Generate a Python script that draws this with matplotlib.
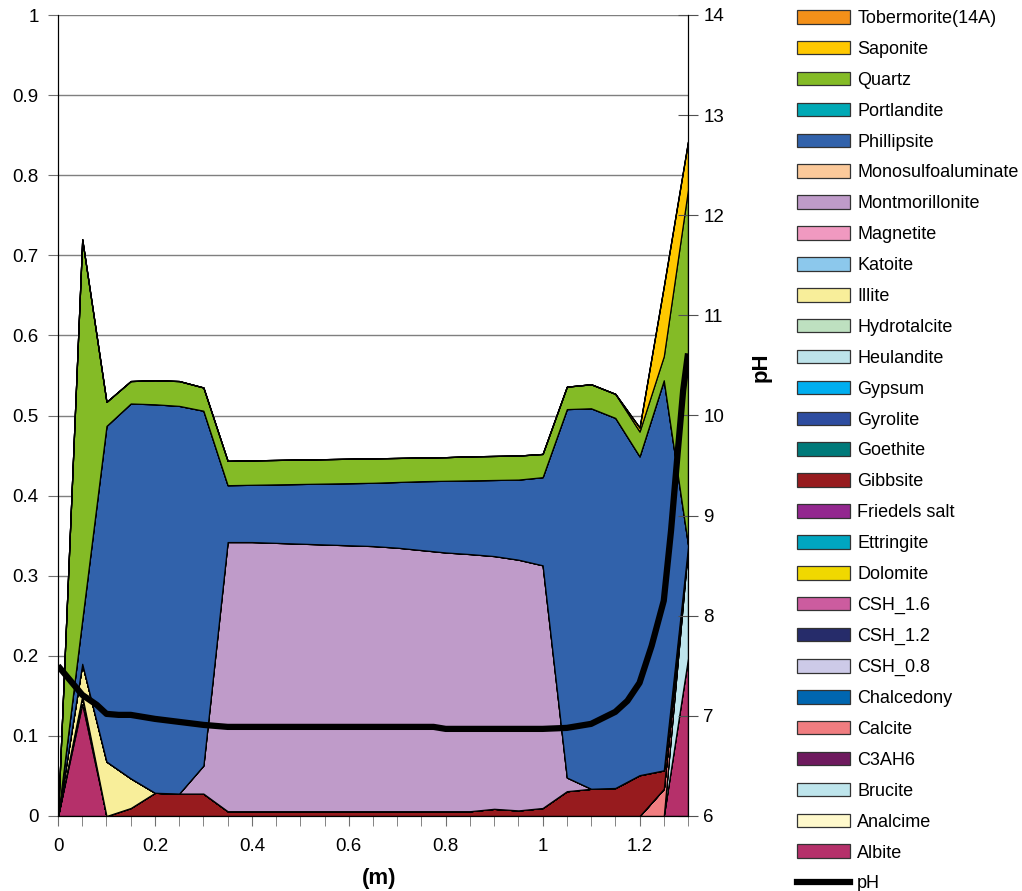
import matplotlib
matplotlib.use("Agg")
import matplotlib.pyplot as plt
from matplotlib.patches import Patch
from matplotlib.lines import Line2D

plt.rcParams['font.family'] = ['Liberation Sans', 'DejaVu Sans']

# distance (m), one value every 0.05 m
dist = [0.0, 0.05, 0.1, 0.15, 0.2, 0.25, 0.3, 0.35, 0.4, 0.45, 0.5, 0.55, 0.6, 0.65,
        0.7, 0.75, 0.8, 0.85, 0.9, 0.95, 1.0, 1.05, 1.1, 1.15, 1.2, 1.25, 1.3]

zeros = [0.0] * 27  # minerals that never show up

albite = [0, 0.14, 0, 0, 0, 0, 0, 0, 0, 0, 0, 0, 0, 0,
          0, 0, 0, 0, 0, 0, 0, 0, 0, 0, 0, 0, 0.197]
analcime = [0, 0.01, 0, 0, 0, 0, 0, 0, 0, 0, 0, 0, 0, 0,
            0, 0, 0, 0, 0, 0, 0, 0, 0, 0, 0, 0, 0]
brucite = [0, 0, 0, 0, 0, 0, 0, 0, 0, 0, 0, 0, 0, 0,
           0, 0, 0, 0, 0, 0, 0, 0, 0, 0, 0, 0, 0.139]
c3ah6 = zeros
calcite = [0, 0, 0, 0, 0, 0, 0, 0, 0, 0, 0, 0, 0, 0,
           0, 0, 0, 0, 0, 0, 0, 0, 0, 0, 0, 0.034, 0]
chalcedony = zeros
csh_08 = zeros
csh_12 = zeros
csh_16 = zeros
dolomite = zeros
ettringite = zeros
friedels = zeros
gibbsite = [0, 0, 0, 0.01, 0.029, 0.028, 0.028, 0.006, 0.006, 0.006, 0.006, 0.006, 0.006, 0.006,
            0.006, 0.006, 0.006, 0.006, 0.009, 0.007, 0.01, 0.031, 0.034, 0.035, 0.051, 0.023, 0]
goethite = zeros
gyrolite = zeros
gypsum = zeros
heulandite = zeros
hydrotalcite = zeros
illite = [0, 0.04, 0.068, 0.037, 0, 0, 0, 0, 0, 0, 0, 0, 0, 0,
          0, 0, 0, 0, 0, 0, 0, 0, 0, 0, 0, 0, 0]
katoite = zeros
magnetite = zeros
montmorillonite = [0, 0, 0, 0, 0, 0, 0.035, 0.336, 0.336, 0.335, 0.334, 0.333, 0.332, 0.331,
                   0.329, 0.326, 0.323, 0.321, 0.3155, 0.313, 0.303, 0.017, 0, 0, 0, 0, 0]
monosulfo = zeros
phillipsite = [0, 0.055, 0.419, 0.468, 0.485, 0.484, 0.443, 0.071, 0.0715, 0.073, 0.0745, 0.076, 0.0775, 0.079,
               0.082, 0.086, 0.0895, 0.092, 0.095, 0.1, 0.11, 0.46, 0.475, 0.462, 0.398, 0.487, 0.003]
portlandite = zeros
quartz = [0, 0.475, 0.03, 0.028, 0.03, 0.031, 0.029, 0.0304, 0.0305, 0.0305, 0.0305, 0.0305, 0.0305, 0.0305,
          0.03, 0.0295, 0.0295, 0.03, 0.03, 0.03, 0.029, 0.028, 0.03, 0.03, 0.031, 0.03, 0.443]
saponite = [0, 0, 0, 0, 0, 0, 0, 0, 0, 0, 0, 0, 0, 0,
            0, 0, 0, 0, 0, 0, 0, 0, 0, 0, 0.005, 0.087, 0.06]
tobermorite = zeros

# pH curve (read on a finer spacing)
ph_x = [0, 0.05, 0.08, 0.1, 0.125, 0.15, 0.2, 0.25, 0.3, 0.35, 0.4, 0.5, 0.6, 0.7, 0.775,
        0.8, 0.9, 1.0, 1.05, 1.1, 1.15, 1.175, 1.2, 1.225, 1.25, 1.265, 1.28, 1.29, 1.3]
ph = [7.5, 7.21, 7.11, 7.02, 7.01, 7.01, 6.97, 6.94, 6.91, 6.89, 6.89, 6.89, 6.89, 6.89, 6.89,
      6.87, 6.87, 6.87, 6.88, 6.92, 7.04, 7.15, 7.33, 7.7, 8.15, 8.85, 9.7, 10.25, 10.62]

# stacking order, bottom first
names = ["Albite", "Analcime", "Brucite", "C3AH6", "Calcite", "Chalcedony", "CSH_0.8",
         "CSH_1.2", "CSH_1.6", "Dolomite", "Ettringite", "Friedels salt", "Gibbsite",
         "Goethite", "Gyrolite", "Gypsum", "Heulandite", "Hydrotalcite", "Illite", "Katoite",
         "Magnetite", "Montmorillonite", "Monosulfoaluminate", "Phillipsite", "Portlandite",
         "Quartz", "Saponite", "Tobermorite(14A)"]
series = [albite, analcime, brucite, c3ah6, calcite, chalcedony, csh_08, csh_12, csh_16,
          dolomite, ettringite, friedels, gibbsite, goethite, gyrolite, gypsum, heulandite,
          hydrotalcite, illite, katoite, magnetite, montmorillonite, monosulfo, phillipsite,
          portlandite, quartz, saponite, tobermorite]
colors = ["#B5306A", "#FFF9CC", "#BEE5EC", "#6E1A5E", "#F07D80", "#0066B0", "#CDCAE8",
          "#262C6A", "#CC5C9F", "#F0D800", "#00A6C0", "#93278F", "#971B1E", "#007A7A",
          "#2E4DA0", "#00AEEF", "#BDE3EA", "#BEE0C0", "#F8EE9A", "#8CC8EC", "#F099C0",
          "#BF9BC9", "#FBC99A", "#3162AB", "#00A9B5", "#84BB26", "#FFC800", "#F39019"]

fig = plt.figure(figsize=(10.22, 8.91), dpi=100)
ax = fig.add_axes([58 / 1022, 75 / 891, 630 / 1022, 801 / 891])

ax.stackplot(dist, *series, colors=colors, edgecolor="black", linewidth=0.9)

ax.set_xlim(0, 1.3)
ax.set_ylim(0, 1)
ax.set_axisbelow(True)
ax.yaxis.grid(True, color="#7f7f7f", linewidth=1.0)
ax.set_yticks([i / 10 for i in range(11)])
ax.set_yticklabels(["0", "0.1", "0.2", "0.3", "0.4", "0.5", "0.6", "0.7", "0.8", "0.9", "1"])
ax.set_xticks([0, 0.2, 0.4, 0.6, 0.8, 1.0, 1.2])
ax.set_xticklabels(["0", "0.2", "0.4", "0.6", "0.8", "1", "1.2"])
ax.set_xticks(dist, minor=True)
ax.tick_params(axis="both", which="both", direction="out", color="#707070", labelsize=13.5)
ax.tick_params(axis="y", length=7, pad=7)
ax.tick_params(axis="x", which="both", length=7, pad=9)
ax.spines["top"].set_visible(False)
ax.spines["left"].set_color("black")
ax.spines["bottom"].set_color("black")
ax.set_xlabel("(m)", fontsize=16, fontweight="bold")
ax.xaxis.set_label_coords(0.51, -0.065)

ax2 = ax.twinx()
ax2.plot(ph_x, ph, color="black", linewidth=4.5, solid_capstyle="butt")
ax2.set_ylim(6, 14)
ax2.set_yticks(range(6, 15))
ax2.tick_params(axis="y", direction="inout", length=14, color="#505050", labelsize=13.5, pad=4)
ax2.spines["top"].set_visible(False)
ax2.spines["right"].set_color("black")
ax2.set_ylabel("pH", fontsize=16, fontweight="bold")
ax2.yaxis.set_label_coords(1.10, 0.56)

handles = [Patch(facecolor=c, edgecolor="#333333", linewidth=0.9) for c in colors[::-1]]
labels = names[::-1]
handles.append(Line2D([0], [0], color="black", linewidth=4.5))
labels.append("pH")
fig.legend(handles, labels, loc="upper left", bbox_to_anchor=(797 / 1022, 1 - 10 / 891),
           frameon=False, fontsize=13, labelspacing=0.765, handlelength=2.95,
           handleheight=0.78, handletextpad=0.38, borderpad=0, borderaxespad=0)

fig.savefig("out.png", dpi=100)
